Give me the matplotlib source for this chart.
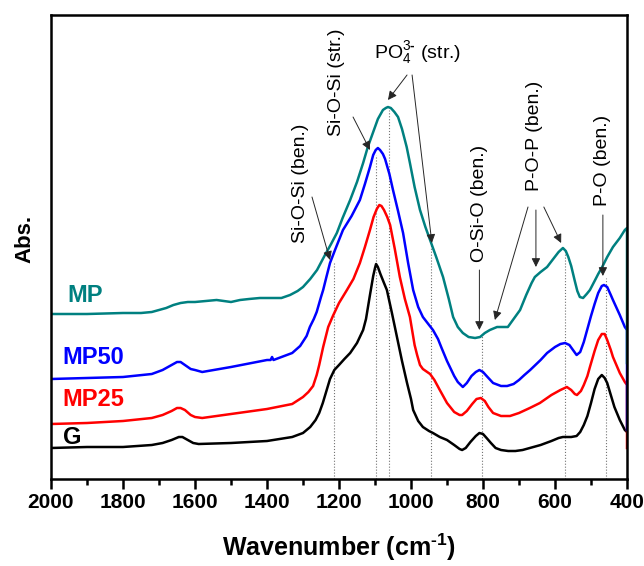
import matplotlib
matplotlib.use("Agg")
import matplotlib.pyplot as plt
from matplotlib.ticker import MultipleLocator

plt.rcParams['font.family'] = ['Liberation Sans', 'DejaVu Sans']
plt.rcParams['mathtext.fontset'] = 'custom'
plt.rcParams['mathtext.rm'] = 'Liberation Sans:bold'
plt.rcParams['mathtext.bf'] = 'Liberation Sans:bold'
plt.rcParams['mathtext.default'] = 'regular'

# FTIR spectra, offset absorbance (arbitrary units)
wn_G = [2000, 1900, 1800, 1720, 1690, 1665, 1645, 1635, 1620, 1605, 1590, 1500, 1400, 1330,
        1300, 1280, 1265, 1255, 1245, 1235, 1225, 1213, 1200, 1185, 1169, 1150, 1133, 1125,
        1114, 1105, 1100, 1097, 1092, 1085, 1075, 1067, 1053, 1039, 1025, 1011, 1000, 994,
        980, 967, 950, 939, 920, 900, 880, 865, 858, 848, 835, 820, 810, 800, 790, 778, 765,
        750, 730, 710, 690, 660, 640, 610, 590, 578, 555, 540, 530, 520, 510, 500, 490, 480,
        470, 462, 455, 445, 435, 420, 406, 400]
abs_G = [31, 32, 32, 34, 36, 39, 42, 42, 39, 36, 35, 36, 38, 42,
         46, 52, 59, 66, 76, 88, 100, 109, 114, 120, 126, 136, 149, 160,
         184, 203, 211, 215, 212, 205, 196, 189, 166, 142, 118, 96, 80, 69,
         58, 52, 48, 46, 42, 39, 34, 30, 29, 31, 37, 43, 46, 45, 41, 36, 31,
         29, 28, 28, 29, 32, 34, 38, 41, 42, 42, 43, 47, 54, 63, 76, 90, 100,
         104, 101, 96, 84, 72, 59, 49, 47]

wn_MP25 = [2000, 1900, 1800, 1720, 1690, 1665, 1650, 1640, 1628, 1612, 1600, 1580, 1500, 1400,
           1330, 1300, 1285, 1272, 1262, 1255, 1244, 1230, 1217, 1200, 1178, 1160, 1142, 1128,
           1114, 1104, 1095, 1088, 1082, 1075, 1066, 1058, 1045, 1031, 1017, 1003, 990, 983,
           975, 967, 955, 947, 935, 920, 900, 880, 865, 858, 845, 830, 818, 806, 795, 785, 772,
           750, 725, 700, 670, 642, 610, 585, 567, 555, 545, 539, 528, 520, 510, 503, 490, 480,
           470, 462, 455, 445, 439, 420, 406, 400, 400]
abs_MP25 = [55, 56, 58, 61, 64, 68, 71, 71, 69, 64, 62, 61, 65, 70,
            75, 82, 87, 93, 104, 114, 132, 152, 163, 176, 189, 200, 216, 232,
            249, 262, 270, 274, 273, 269, 262, 254, 230, 202, 180, 162, 134, 124,
            114, 110, 107, 105, 99, 89, 76, 67, 64, 64, 68, 75, 80, 81, 78, 72, 66,
            63, 63, 66, 71, 76, 84, 89, 92, 89, 85, 84, 88, 94, 103, 112, 128, 139,
            145, 145, 139, 129, 122, 106, 97, 94, 31]

wn_MP50 = [2000, 1900, 1800, 1720, 1690, 1665, 1650, 1640, 1628, 1612, 1600, 1580, 1500, 1400,
           1390, 1386, 1382, 1330, 1308, 1290, 1281, 1270, 1262, 1250, 1244, 1235, 1225, 1210,
           1189, 1165, 1142, 1128, 1114, 1105, 1098, 1092, 1086, 1078, 1072, 1060, 1050, 1036,
           1022, 1008, 994, 980, 967, 952, 939, 925, 915, 900, 892, 880, 870, 856, 845, 832,
           820, 810, 800, 790, 772, 750, 733, 715, 700, 685, 669, 640, 622, 600, 585, 572, 560,
           550, 540, 530, 520, 510, 500, 490, 480, 470, 464, 455, 445, 439, 420, 406, 400, 400]
abs_MP50 = [100, 101, 102, 105, 109, 114, 117, 117, 114, 110, 109, 107, 112, 119,
            119, 122, 119, 126, 133, 143, 152, 160, 167, 182, 189, 202, 216, 230,
            249, 263, 279, 295, 312, 324, 329, 331, 329, 325, 320, 305, 289, 268,
            246, 216, 189, 172, 162, 155, 149, 140, 131, 118, 112, 103, 97, 92, 96, 103,
            107, 109, 107, 103, 96, 93, 93, 95, 99, 104, 109, 119, 126, 132, 135, 136, 134,
            129, 124, 127, 137, 150, 163, 175, 186, 193, 194, 192, 184, 179, 164, 152, 149, 49]

wn_MP = [2000, 1900, 1800, 1750, 1720, 1700, 1680, 1660, 1640, 1620, 1600, 1570, 1540, 1520,
         1500, 1475, 1450, 1420, 1392, 1360, 1336, 1315, 1300, 1280, 1261, 1239, 1222, 1206,
         1190, 1169, 1150, 1133, 1120, 1106, 1092, 1078, 1070, 1064, 1056, 1046, 1036, 1025,
         1012, 1003, 990, 975, 960, 947, 930, 911, 895, 883, 870, 856, 840, 822, 808, 795, 781,
         761, 745, 731, 715, 697, 680, 665, 656, 640, 622, 605, 590, 578, 570, 563, 555, 545,
         538, 531, 522, 512, 503, 490, 480, 469, 455, 439, 420, 406, 400, 400]
abs_MP = [165, 165, 166, 166, 167, 169, 171, 174, 176, 177, 177, 178, 179, 178,
          177, 179, 180, 181, 181, 181, 184, 188, 192, 200, 209, 224, 235, 246,
          261, 279, 297, 316, 332, 346, 360, 369, 371, 372, 371, 367, 362, 350,
          332, 316, 292, 269, 252, 239, 222, 202, 180, 162, 152, 146, 142, 141, 142, 146, 149,
          152, 152, 152, 160, 169, 184, 196, 202, 207, 212, 220, 227, 231, 228, 222, 213, 198,
          188, 182, 181, 185, 189, 198, 205, 212, 222, 232, 241, 249, 251, 116]

series = [
    (wn_G, abs_G, 'black', 'G', 1968, 42),
    (wn_MP25, abs_MP25, '#ff0000', 'MP25', 1968, 79),
    (wn_MP50, abs_MP50, '#0000ff', 'MP50', 1968, 121),
    (wn_MP, abs_MP, '#008080', 'MP', 1955, 184),
]

# band positions (dotted guides) and where each guide starts
bands = [1213, 1096, 1061, 945, 804, 571, 457]
band_top = [216, 324, 369, 234, 144, 229, 201]

fig = plt.figure(figsize=(6.44, 5.66), dpi=100)
ax = fig.add_axes([51/644, 87/566, 576/644, 464/566])

for b, t in zip(bands, band_top):
    ax.plot([b, b], [0, t], ls=':', color='0.45', lw=0.8)

for wn, a, c, name, lx, ly in series:
    ax.plot(wn, a, color=c, lw=1.8)
    ax.text(lx, ly, name, color=c, fontsize=17, fontweight='bold', va='center', ha='left')

# band assignments
ax.text(1308, 296, 'Si-O-Si (ben.)', rotation=90, fontsize=14, ha='center', va='center')
ax.text(1208, 397, 'Si-O-Si (str.)', rotation=90, fontsize=14, ha='center', va='center')
ax.text(981, 426, r'PO$_4^{3\text{-}}$ (str.)', fontsize=14, ha='center', va='center')
ax.text(810, 276, 'O-Si-O (ben.)', rotation=90, fontsize=14, ha='center', va='center')
ax.text(658, 343, 'P-O-P (ben.)', rotation=90, fontsize=14, ha='center', va='center')
ax.text(467, 319, 'P-O (ben.)', rotation=90, fontsize=14, ha='center', va='center')

arrows = [
    ((1275, 282), (1225, 219)),
    ((1161, 362), (1114, 329)),
    ((1011, 404), (1064, 379)),
    ((997, 404), (942, 236)),
    ((810, 209), (810, 149)),
    ((675, 272), (767, 159)),
    ((653, 269), (653, 212)),
    ((631, 272), (583, 236)),
    ((467, 264), (467, 203)),
]
for tail, tip in arrows:
    ax.annotate('', xy=tip, xytext=tail,
                arrowprops=dict(arrowstyle='-|>', color='0.15', lw=0.7,
                                mutation_scale=13, shrinkA=0, shrinkB=0))

ax.set_xlim(2000, 400)
ax.set_ylim(0, 464)
ax.set_yticks([])
ax.xaxis.set_major_locator(MultipleLocator(200))
ax.xaxis.set_minor_locator(MultipleLocator(100))
ax.tick_params(axis='x', which='major', direction='out', length=7, width=1.8, pad=3)
ax.tick_params(axis='x', which='minor', direction='out', length=4, width=1.8)
for lab in ax.get_xticklabels():
    lab.set_fontsize(15)
    lab.set_fontweight('bold')
for s in ax.spines.values():
    s.set_linewidth(1.8)

ax.set_xlabel(r'Wavenumber (cm$^{\text{-}1}$)', fontsize=18, fontweight='bold', labelpad=14)
fig.text(25/644, 1 - 239/566, 'Abs.', rotation=90, fontsize=16, fontweight='bold',
         ha='center', va='center')

fig.savefig('out.png', dpi=100)
